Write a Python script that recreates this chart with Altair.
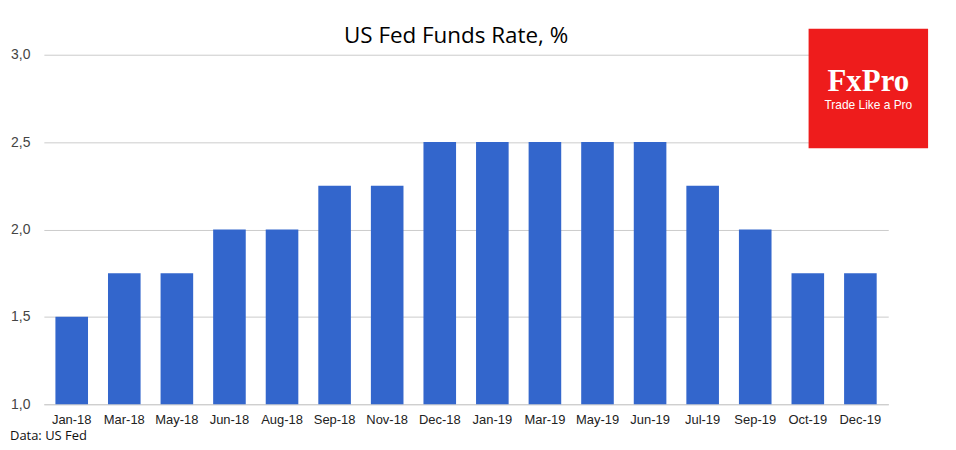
import altair as alt
import pandas as pd

months = ["Jan-18", "Mar-18", "May-18", "Jun-18", "Aug-18", "Sep-18", "Nov-18", "Dec-18",
          "Jan-19", "Mar-19", "May-19", "Jun-19", "Jul-19", "Sep-19", "Oct-19", "Dec-19"]
rates = [1.5, 1.75, 1.75, 2.0, 2.0, 2.25, 2.25, 2.5, 2.5, 2.5, 2.5, 2.5, 2.25, 2.0, 1.75, 1.75]
y_ticks = [1.0, 1.5, 2.0, 2.5, 3.0]

df = pd.DataFrame({"month": months, "rate": rates, "base": [1.0] * len(months)})

W, H = 848, 351

bars = alt.Chart(df).mark_bar(color="#3366cc").encode(
    x=alt.X("month:N", sort=months, title=None,
            scale=alt.Scale(paddingInner=0.38, paddingOuter=0.22),
            axis=alt.Axis(labelAngle=0, ticks=False, domain=True, domainColor="#cccccc",
                          labelFont="Liberation Sans", labelFontSize=13, labelColor="#222222",
                          labelPadding=9, grid=False)),
    y=alt.Y("rate:Q", title=None,
            scale=alt.Scale(domain=[1.0, 3.0], zero=False, nice=False),
            axis=alt.Axis(values=y_ticks, ticks=False, domain=False, grid=True,
                          gridColor="#cccccc", labelFont="Liberation Sans", labelFontSize=14,
                          labelColor="#444444", labelPadding=14,
                          labelExpr="replace(format(datum.value, '.1f'), '.', ',')")),
    y2="base:Q",
)

title = alt.Chart(pd.DataFrame({"t": ["US Fed Funds Rate, %"]})).mark_text(
    font="Open Sans", fontSize=22.5, color="#000000", align="center", baseline="middle"
).encode(text="t:N", x=alt.value(414), y=alt.value(-19))

logo_bg = alt.Chart(pd.DataFrame({"a": [0]})).mark_rect(color="#ee1c1c").encode(
    x=alt.value(768), x2=alt.value(888), y=alt.value(-26), y2=alt.value(94)
)
logo_t1 = alt.Chart(pd.DataFrame({"t": ["FxPro"]})).mark_text(
    font="Liberation Serif", fontSize=31, fontWeight="bold", color="white",
    align="center", baseline="middle"
).encode(text="t:N", x=alt.value(828), y=alt.value(27))
logo_t2 = alt.Chart(pd.DataFrame({"t": ["Trade Like a Pro"]})).mark_text(
    font="Liberation Sans", fontSize=12, color="white", align="center", baseline="middle"
).encode(text="t:N", x=alt.value(828), y=alt.value(50))

source = alt.Chart(pd.DataFrame({"t": ["Data: US Fed"]})).mark_text(
    font="Open Sans", fontSize=13, color="#111111", align="left", baseline="middle"
).encode(text="t:N", x=alt.value(-34), y=alt.value(383))

chart = alt.layer(bars, title, logo_bg, logo_t1, logo_t2, source).properties(
    width=W, height=H,
    autosize=alt.AutoSizeParams(type="none"),
    padding={"left": 36, "top": 46, "right": 60, "bottom": 40},
).configure_view(stroke=None)

chart.save("out.html", embed_options={"renderer": "svg", "actions": False})
